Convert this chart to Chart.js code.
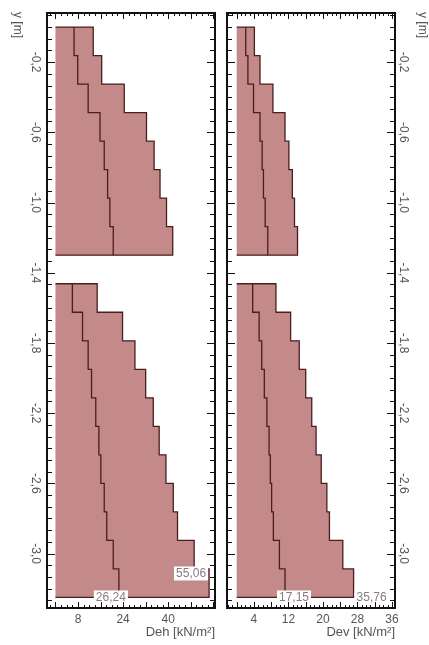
<!DOCTYPE html>
<html>
<head>
<meta charset="utf-8">
<script src="https://cdn.jsdelivr.net/npm/chart.js@4.4.0/dist/chart.umd.min.js"></script>
<style>
body { margin: 0; background: #fff; width: 429px; height: 645px; position: relative; overflow: hidden; }
canvas { position: absolute; top: 0; }
#c1 { left: 0; }
#c2 { left: 221px; }
</style>
</head>
<body>
<canvas id="c1" width="221" height="645"></canvas>
<canvas id="c2" width="208" height="645"></canvas>
<script>
// layer boundaries (depth in m)
var upperDepths = [0, -0.1625, -0.325, -0.4875, -0.65, -0.8125, -0.975, -1.1375, -1.3];
var lowerDepths = [-1.4625, -1.625, -1.7875, -1.95, -2.1125, -2.275, -2.4375, -2.6, -2.7625, -2.925, -3.0875, -3.25];

// Deh [kN/m2]
var dehTotalUpper = [13.4, 16.4, 24.4, 32.3, 35.0, 37.1, 39.4, 41.6];
var dehInnerUpper = [6.6, 7.9, 11.6, 15.8, 17.3, 18.5, 19.3, 20.5];
var dehTotalLower = [14.8, 23.8, 28.2, 32.0, 34.7, 36.8, 39.2, 41.8, 43.3, 49.2, 54.5];
var dehInnerLower = [6.0, 9.6, 11.6, 12.8, 14.3, 15.4, 16.1, 17.3, 18.2, 20.5, 22.5];

// Dev [kN/m2]
var devTotalUpper = [4.1, 5.4, 8.4, 11.2, 12.1, 12.9, 13.4, 14.1];
var devInnerUpper = [2.1, 2.6, 3.9, 5.4, 5.9, 6.2, 6.6, 7.2];
var devTotalLower = [9.1, 12.5, 14.5, 16.0, 17.4, 18.4, 19.6, 20.9, 21.5, 24.6, 27.1];
var devInnerLower = [3.7, 5.2, 5.8, 6.4, 7.0, 7.5, 7.8, 8.1, 8.5, 9.9, 11.2];

var dehLabels = ['26,24', '55,06'];
var devLabels = ['17,15', '35,76'];

var yTicks = [-0.2, -0.6, -1.0, -1.4, -1.8, -2.2, -2.6, -3.0];
var dehTicks = [8, 24, 40];
var devTicks = [4, 12, 20, 28, 36];

var yMin = -3.31, yMax = 0.08;

Chart.defaults.font.family = '"Liberation Sans", Arial, sans-serif';
Chart.defaults.font.size = 12;

var fillCol = '#c48a8a';
var lineCol = '#4a1e1e';
var textCol = '#555';

function outline(vals, depths) {
    var pts = [{x: 0, y: depths[0]}];
    for (var i = 0; i < vals.length; i++) pts.push({x: vals[i], y: depths[i]});
    pts.push({x: vals[vals.length - 1], y: depths[depths.length - 1]});
    pts.push({x: 0, y: depths[depths.length - 1]});
    return pts;
}
function steps(vals, depths) {
    var pts = [];
    for (var i = 0; i < vals.length; i++) pts.push({x: vals[i], y: depths[i]});
    pts.push({x: vals[vals.length - 1], y: depths[depths.length - 1]});
    return pts;
}
function lineSet(data) {
    return {data: data, showLine: true, stepped: 'after', borderColor: lineCol, borderWidth: 1.3, pointRadius: 0, fill: false};
}
function areaSet(data) {
    return {data: data, showLine: true, stepped: 'after', borderColor: lineCol, borderWidth: 1.3, pointRadius: 0,
            fill: 'shape', backgroundColor: fillCol};
}

function fmt(v) { return v.toFixed(1).replace('.', ','); }

// frame with inward ticks on all four sides
function framePlugin(xMinor, xMajor, yLabelX) {
    return {
        id: 'frame',
        afterDraw: function(chart) {
            var ctx = chart.ctx, a = chart.chartArea, sx = chart.scales.x, sy = chart.scales.y;
            ctx.save();
            ctx.strokeStyle = '#111';
            ctx.lineWidth = 1;
            ctx.beginPath();
            var yStep = 0.4 / 6;
            for (var k = -10; k < 60; k++) {
                var v = -0.2 - k * yStep;
                if (v < sy.min || v > sy.max) continue;
                var p = Math.round(sy.getPixelForValue(v)) + 0.5;
                var len = (k % 6 === 0) ? 8 : 5;
                ctx.moveTo(a.left, p); ctx.lineTo(a.left + len, p);
                ctx.moveTo(a.right, p); ctx.lineTo(a.right - len, p);
            }
            for (var j = Math.ceil(sx.min / xMinor); j * xMinor <= sx.max; j++) {
                var xv = j * xMinor;
                var q = Math.round(sx.getPixelForValue(xv)) + 0.5;
                var l2 = (Math.abs(xv % xMajor) < 1e-6) ? 6 : 3;
                ctx.moveTo(q, a.top); ctx.lineTo(q, a.top + l2);
                ctx.moveTo(q, a.bottom); ctx.lineTo(q, a.bottom - l2);
            }
            ctx.stroke();
            ctx.lineWidth = 2;
            ctx.strokeRect(a.left, a.top, a.right - a.left, a.bottom - a.top);
            // axis name at the top of the depth axis
            ctx.translate(yLabelX, 12);
            ctx.rotate(Math.PI / 2);
            ctx.fillStyle = textCol;
            ctx.font = '12px "Liberation Sans", Arial, sans-serif';
            ctx.textAlign = 'left';
            ctx.textBaseline = 'middle';
            ctx.fillText('y [m]', 0, 0);
            ctx.restore();
        }
    };
}

function notesPlugin(list) {
    return {
        id: 'notes',
        afterDatasetsDraw: function(chart) {
            var ctx = chart.ctx, sx = chart.scales.x, sy = chart.scales.y;
            ctx.save();
            ctx.font = '12px "Liberation Sans", Arial, sans-serif';
            ctx.textBaseline = 'middle';
            ctx.textAlign = 'left';
            list.forEach(function(n) {
                var px = sx.getPixelForValue(n.x) + n.dx;
                var py = sy.getPixelForValue(n.y) + n.dy;
                var w = ctx.measureText(n.text).width;
                var left = n.align === 'right' ? px - w : (n.align === 'center' ? px - w / 2 : px);
                ctx.fillStyle = '#fff';
                ctx.fillRect(left - 2, py - 7, w + 4, 14);
                ctx.fillStyle = '#8a7a84';
                ctx.fillText(n.text, left, py);
            });
            ctx.restore();
        }
    };
}

function yAxis(pos, pad, w) {
    return {
        type: 'linear', position: pos, min: yMin, max: yMax,
        afterBuildTicks: function(s) { s.ticks = yTicks.map(function(v) { return {value: v}; }); },
        afterFit: function(s) { s.width = w; },
        grid: {display: false, drawTicks: false},
        border: {display: false},
        ticks: {autoSkip: false, minRotation: -90, maxRotation: -90, crossAlign: 'center',
                padding: pad, color: textCol, callback: fmt}
    };
}
function xAxis(min, max, tickVals, title) {
    return {
        type: 'linear', position: 'bottom', min: min, max: max,
        afterBuildTicks: function(s) { s.ticks = tickVals.map(function(v) { return {value: v}; }); },
        afterFit: function(s) { s.height = 37; },
        grid: {display: false, drawTicks: false},
        border: {display: false},
        ticks: {autoSkip: false, maxRotation: 0, padding: 4, color: textCol},
        title: {display: true, text: title, align: 'end', color: textCol, font: {size: 13}, padding: {top: 0, bottom: 5}}
    };
}

var last = lowerDepths[lowerDepths.length - 1];

new Chart(document.getElementById('c1').getContext('2d'), {
    type: 'scatter',
    data: {datasets: [
        lineSet(steps(dehInnerUpper, upperDepths)),
        lineSet(steps(dehInnerLower, lowerDepths)),
        areaSet(outline(dehTotalUpper, upperDepths)),
        areaSet(outline(dehTotalLower, lowerDepths))
    ]},
    options: {
        responsive: false, animation: false, devicePixelRatio: 1,
        layout: {padding: {left: 0, top: 13, right: 6, bottom: 0}},
        plugins: {legend: {display: false}, tooltip: {enabled: false}},
        scales: {
            x: xAxis(-3.0, 56.6, dehTicks, 'Deh [kN/m\u00b2]'),
            y: yAxis('left', 1.5, 47)
        }
    },
    plugins: [framePlugin(2, 8, 17), notesPlugin([
        {text: dehLabels[0], x: dehInnerLower[dehInnerLower.length - 1], y: last, dx: -8, dy: 0, align: 'center'},
        {text: dehLabels[1], x: dehTotalLower[dehTotalLower.length - 1], y: last, dx: -3, dy: -24, align: 'right'}
    ])]
});

new Chart(document.getElementById('c2').getContext('2d'), {
    type: 'scatter',
    data: {datasets: [
        lineSet(steps(devInnerUpper, upperDepths)),
        lineSet(steps(devInnerLower, lowerDepths)),
        areaSet(outline(devTotalUpper, upperDepths)),
        areaSet(outline(devTotalLower, lowerDepths))
    ]},
    options: {
        responsive: false, animation: false, devicePixelRatio: 1,
        layout: {padding: {left: 6, top: 13, right: 0, bottom: 0}},
        plugins: {legend: {display: false}, tooltip: {enabled: false}},
        scales: {
            x: xAxis(-2.25, 36.7, devTicks, 'Dev [kN/m\u00b2]'),
            y: yAxis('right', -2, 34)
        }
    },
    plugins: [framePlugin(1, 4, 201), notesPlugin([
        {text: devLabels[0], x: devInnerLower[devInnerLower.length - 1], y: last, dx: 9, dy: 0, align: 'center'},
        {text: devLabels[1], x: devTotalLower[devTotalLower.length - 1], y: last, dx: 3, dy: 0, align: 'left'}
    ])]
});
</script>
</body>
</html>
